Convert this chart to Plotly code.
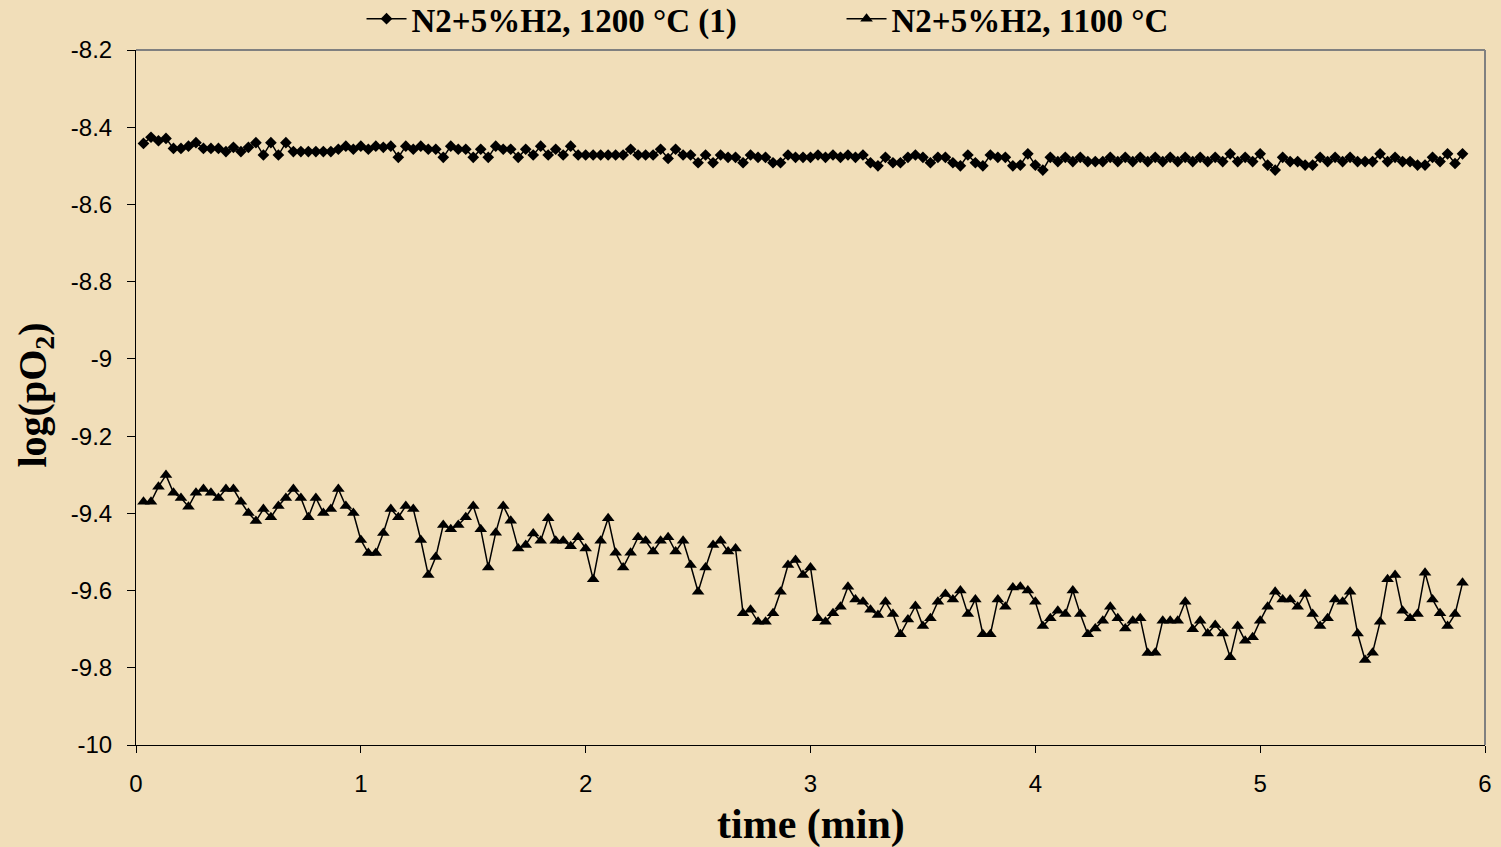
import plotly.graph_objects as go

# sampling: one reading every 2 s (1/30 min), samples 1..177
sample_index = list(range(1, 178))
time_min = [k / 30 for k in sample_index]

series_1200_name = "N2+5%H2, 1200 °C (1)"
series_1200 = [
    -8.442, -8.426, -8.435, -8.429, -8.455, -8.455, -8.449, -8.440, -8.455, -8.455,
    -8.455, -8.463, -8.452, -8.463, -8.452, -8.440, -8.472, -8.440, -8.472, -8.440,
    -8.463, -8.463, -8.463, -8.463, -8.463, -8.463, -8.457, -8.449, -8.457, -8.449,
    -8.457, -8.449, -8.452, -8.449, -8.478, -8.449, -8.457, -8.449, -8.457, -8.457,
    -8.478, -8.449, -8.457, -8.457, -8.478, -8.457, -8.478, -8.449, -8.457, -8.457,
    -8.478, -8.457, -8.472, -8.449, -8.472, -8.457, -8.472, -8.449, -8.472, -8.472,
    -8.472, -8.472, -8.472, -8.472, -8.472, -8.457, -8.472, -8.472, -8.472, -8.457,
    -8.481, -8.457, -8.472, -8.472, -8.492, -8.472, -8.492, -8.472, -8.478, -8.478,
    -8.492, -8.472, -8.478, -8.478, -8.492, -8.492, -8.472, -8.478, -8.478, -8.478,
    -8.472, -8.478, -8.472, -8.478, -8.472, -8.478, -8.472, -8.492, -8.500, -8.478,
    -8.492, -8.492, -8.478, -8.472, -8.478, -8.492, -8.478, -8.478, -8.492, -8.500,
    -8.472, -8.492, -8.500, -8.472, -8.478, -8.478, -8.500, -8.498, -8.469, -8.498,
    -8.511, -8.478, -8.489, -8.478, -8.489, -8.478, -8.489, -8.489, -8.489, -8.478,
    -8.489, -8.478, -8.489, -8.478, -8.489, -8.478, -8.489, -8.478, -8.489, -8.478,
    -8.489, -8.478, -8.489, -8.478, -8.489, -8.469, -8.489, -8.478, -8.489, -8.469,
    -8.498, -8.511, -8.478, -8.489, -8.489, -8.498, -8.498, -8.478, -8.489, -8.478,
    -8.489, -8.478, -8.489, -8.489, -8.489, -8.469, -8.489, -8.478, -8.489, -8.489,
    -8.498, -8.498, -8.478, -8.489, -8.469, -8.494, -8.469,
]

series_1100_name = "N2+5%H2, 1100 °C"
series_1100 = [
    -9.370, -9.370, -9.331, -9.301, -9.347, -9.360, -9.383, -9.347, -9.337, -9.347,
    -9.360, -9.337, -9.337, -9.370, -9.399, -9.420, -9.389, -9.410, -9.381, -9.360,
    -9.337, -9.360, -9.410, -9.360, -9.399, -9.389, -9.337, -9.381, -9.399, -9.469,
    -9.503, -9.503, -9.451, -9.389, -9.410, -9.381, -9.389, -9.469, -9.560, -9.513,
    -9.430, -9.441, -9.430, -9.410, -9.381, -9.441, -9.540, -9.450, -9.381, -9.419,
    -9.491, -9.482, -9.452, -9.471, -9.413, -9.471, -9.471, -9.485, -9.462, -9.491,
    -9.571, -9.471, -9.413, -9.502, -9.540, -9.502, -9.462, -9.471, -9.499, -9.471,
    -9.462, -9.499, -9.471, -9.534, -9.603, -9.540, -9.482, -9.471, -9.499, -9.491,
    -9.659, -9.650, -9.681, -9.681, -9.659, -9.603, -9.534, -9.521, -9.560, -9.540,
    -9.672, -9.681, -9.659, -9.642, -9.590, -9.623, -9.629, -9.650, -9.663, -9.629,
    -9.661, -9.713, -9.675, -9.640, -9.692, -9.672, -9.629, -9.609, -9.623, -9.600,
    -9.661, -9.623, -9.713, -9.713, -9.623, -9.642, -9.592, -9.590, -9.600, -9.629,
    -9.692, -9.672, -9.652, -9.661, -9.600, -9.661, -9.713, -9.698, -9.678, -9.642,
    -9.672, -9.698, -9.678, -9.672, -9.762, -9.761, -9.678, -9.678, -9.678, -9.629,
    -9.700, -9.678, -9.711, -9.689, -9.711, -9.773, -9.692, -9.730, -9.721, -9.678,
    -9.642, -9.603, -9.623, -9.623, -9.642, -9.609, -9.661, -9.692, -9.672, -9.623,
    -9.629, -9.603, -9.711, -9.780, -9.761, -9.681, -9.571, -9.560, -9.652, -9.672,
    -9.661, -9.554, -9.623, -9.659, -9.692, -9.661, -9.580,
]

y_tick_vals = [-8.2, -8.4, -8.6, -8.8, -9.0, -9.2, -9.4, -9.6, -9.8, -10.0]
y_tick_text = ["-8.2", "-8.4", "-8.6", "-8.8", "-9", "-9.2", "-9.4", "-9.6", "-9.8", "-10"]
x_tick_vals = [0, 1, 2, 3, 4, 5, 6]
x_tick_text = ["0", "1", "2", "3", "4", "5", "6"]

x_title = "time (min)"
y_title = "log(pO<sub>2</sub>)"

BG = "#F1DEB9"
SERIF = "Liberation Serif, Times New Roman, serif"
SANS = "Liberation Sans, Arial, sans-serif"

fig = go.Figure()
fig.add_trace(go.Scatter(
    x=time_min, y=series_1200, name=series_1200_name, mode="lines+markers",
    line=dict(color="black", width=1.5),
    marker=dict(symbol="diamond", size=9, color="black"),
))
fig.add_trace(go.Scatter(
    x=time_min, y=series_1100, name=series_1100_name, mode="lines+markers",
    line=dict(color="black", width=1.5),
    marker=dict(symbol="triangle-up", size=11, color="black"),
))

fig.update_layout(
    width=1501, height=847,
    margin=dict(l=136, r=16, t=50, b=102, autoexpand=False),
    paper_bgcolor=BG, plot_bgcolor=BG,
    showlegend=True,
    legend=dict(
        orientation="h", x=0.523, y=1.045, xanchor="center", yanchor="middle",
        font=dict(family=SERIF, size=33, color="black", weight="bold"),
        bgcolor="rgba(0,0,0,0)", entrywidth=425, itemwidth=40,
    ),
    xaxis=dict(
        range=[0, 6], tickvals=x_tick_vals, ticktext=x_tick_text,
        showgrid=False, zeroline=False, showline=True, linecolor="black", linewidth=1,
        ticks="outside", ticklen=7, tickcolor="black", ticklabelstandoff=10,
        tickfont=dict(family=SANS, size=24, color="black"),
    ),
    yaxis=dict(
        range=[-10, -8.2], tickvals=y_tick_vals, ticktext=y_tick_text,
        showgrid=False, zeroline=False, showline=True, linecolor="black", linewidth=1,
        ticks="outside", ticklen=8, tickcolor="black", ticklabelstandoff=10,
        tickfont=dict(family=SANS, size=24, color="black"),
    ),
    annotations=[
        dict(text="<b>" + x_title + "</b>", xref="paper", yref="paper", x=0.5, y=-0.115,
             xanchor="center", yanchor="middle", showarrow=False,
             font=dict(family=SERIF, size=42, color="black")),
        dict(text="<b>" + y_title + "</b>", xref="paper", yref="paper", x=-0.075, y=0.504,
             xanchor="center", yanchor="middle", showarrow=False, textangle=-90,
             font=dict(family=SERIF, size=40, color="black")),
    ],
    shapes=[
        dict(type="line", xref="paper", yref="paper", x0=0, x1=1, y0=1, y1=1,
             line=dict(color="#808080", width=2)),
        dict(type="line", xref="paper", yref="paper", x0=1, x1=1, y0=0, y1=1,
             line=dict(color="#808080", width=2)),
    ],
)

fig.write_html(
    "out.html",
    config={"displayModeBar": False},
    post_script="document.body.style.margin='0';document.body.style.background='" + BG + "';",
)
